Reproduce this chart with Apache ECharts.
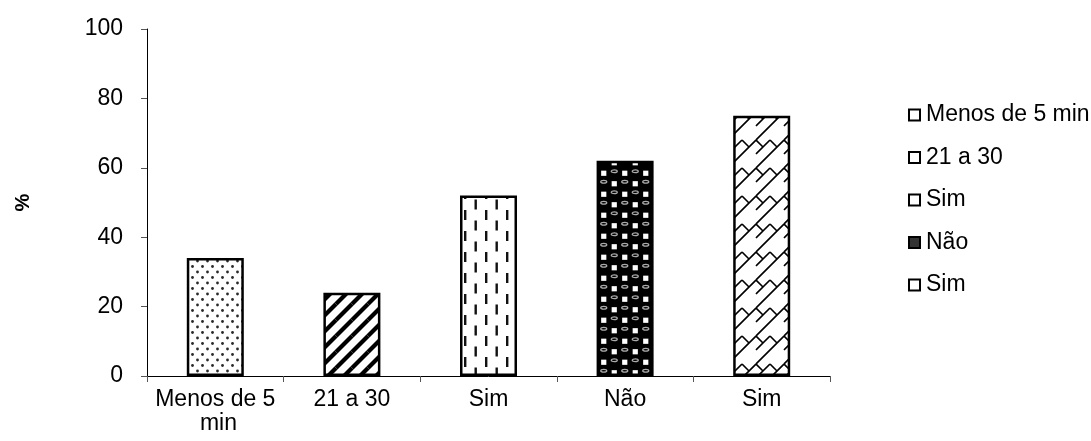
<!DOCTYPE html>
<html>
<head>
<meta charset="utf-8">
<script src="https://cdn.jsdelivr.net/npm/echarts@6/dist/echarts.min.js"></script>
<style>
  html, body { margin: 0; padding: 0; background: #fff; }
  #chart { width: 1091px; height: 441px; }
</style>
</head>
<body>
<div id="chart"></div>
<script>
// Chart data
const categories = ['Menos de 5 min', '21 a 30', 'Sim', 'Não', 'Sim'];
const values = [34, 24, 52, 62, 75];
const legendLabels = ['Menos de 5 min', '21 a 30', 'Sim', 'Não', 'Sim'];
const yTicks = { min: 0, max: 100, interval: 20 };

const FONT = '"Liberation Sans", Arial, sans-serif';

// ---- hatch fills, drawn once into small repeating tiles ----
function tile(w, h, bg, draw) {
  const c = document.createElement('canvas');
  c.width = w; c.height = h;
  const ctx = c.getContext('2d');
  ctx.fillStyle = bg;
  ctx.fillRect(0, 0, w, h);
  // draw at the neighbouring offsets too so shapes wrap seamlessly
  for (const dx of [-w, 0, w]) {
    for (const dy of [-h, 0, h]) {
      ctx.save();
      ctx.translate(dx, dy);
      draw(ctx);
      ctx.restore();
    }
  }
  return c;
}

const dotsTile = tile(10, 11, '#fff', ctx => {
  ctx.fillStyle = '#2a2a2a';
  [[2.5, 2.5], [7.5, 8]].forEach(([x, y]) => {
    ctx.beginPath(); ctx.arc(x, y, 1.4, 0, Math.PI * 2); ctx.fill();
  });
});

const stripeTile = tile(16, 16, '#fff', ctx => {
  ctx.strokeStyle = '#000';
  ctx.lineWidth = 4.2;
  ctx.beginPath(); ctx.moveTo(0, 16); ctx.lineTo(16, 0); ctx.stroke();
});

const dashTile = tile(21, 21, '#fff', ctx => {
  ctx.fillStyle = '#111';
  ctx.fillRect(2, 0, 2.4, 10);
  ctx.fillRect(12.5, 10.5, 2.4, 10);
});

const ballTile = tile(21, 21, '#000', ctx => {
  ctx.fillStyle = '#fff';
  [[15.75, 5.25], [5.25, 15.75]].forEach(([x, y]) => {
    ctx.fillRect(x - 2.6, y - 2.6, 5.2, 5.2);
  });
  [[5.25, 5.25], [15.75, 15.75]].forEach(([x, y]) => {
    ctx.fillStyle = '#000';
    ctx.beginPath(); ctx.arc(x, y, 6, 0, Math.PI * 2); ctx.fill();
    ctx.strokeStyle = '#aaa';
    ctx.lineWidth = 1.3;
    ctx.beginPath(); ctx.ellipse(x, y - 2, 3, 1.4, 0, 0, Math.PI * 2); ctx.stroke();
  });
});

// diagonal brick courses: long "/" joints with staggered short "\" joints
const brickTile = tile(28, 28, '#fff', ctx => {
  ctx.strokeStyle = '#000';
  ctx.lineWidth = 1.6;
  ctx.beginPath();
  ctx.moveTo(0, 14); ctx.lineTo(14, 0);
  ctx.moveTo(0, 28); ctx.lineTo(28, 0);
  ctx.moveTo(0, 0); ctx.lineTo(7, 7);
  ctx.moveTo(14, 0); ctx.lineTo(21, 7);
  ctx.stroke();
});

const fills = [dotsTile, stripeTile, dashTile, ballTile, brickTile]
  .map(img => ({ image: img, repeat: 'repeat' }));
const legendFill = ['#fff', '#fff', '#fff', '#333', '#fff'];

// one series per category, stacked so each bar sits centred on its slot
const series = values.map((v, i) => ({
  name: 'serie' + i,
  type: 'bar',
  stack: 'total',
  barWidth: 57,
  data: categories.map((_, j) => (j === i ? v : '-')),
  itemStyle: { color: fills[i], borderColor: '#000', borderWidth: 2.5 },
  emphasis: { disabled: true }
}));

const chart = echarts.init(document.getElementById('chart'), null, { renderer: 'canvas' });
chart.setOption({
  animation: false,
  backgroundColor: '#fff',
  grid: { left: 147, right: 261, top: 29, bottom: 65, outerBoundsMode: 'none', containLabel: false },
  xAxis: {
    type: 'category',
    data: categories,
    axisLine: { lineStyle: { color: '#000', width: 1 } },
    axisTick: { show: true, interval: 0, length: 6, lineStyle: { color: '#555' } },
    axisLabel: {
      interval: 0, margin: 12, color: '#000',
      fontFamily: FONT, fontSize: 23, lineHeight: 24,
      width: 126, overflow: 'break'
    }
  },
  yAxis: {
    type: 'value',
    min: yTicks.min, max: yTicks.max, interval: yTicks.interval,
    name: '%',
    nameLocation: 'middle',
    nameRotate: 90,
    nameGap: 114,
    nameTextStyle: { fontFamily: FONT, fontSize: 20, fontWeight: 'bold', color: '#000' },
    axisLine: { show: true, lineStyle: { color: '#000', width: 1 } },
    axisTick: { show: true, length: 6, lineStyle: { color: '#555' } },
    splitLine: { show: false },
    axisLabel: { margin: 24, color: '#000', fontFamily: FONT, fontSize: 23 }
  },
  legend: {
    orient: 'vertical',
    left: 903,
    top: 98,
    icon: 'rect',
    itemWidth: 11,
    itemHeight: 11,
    itemGap: 18.5,
    selectedMode: false,
    data: series.map((s, i) => ({
      name: s.name,
      itemStyle: { color: legendFill[i], borderColor: '#000', borderWidth: 2 }
    })),
    formatter: name => legendLabels[Number(name.replace('serie', ''))],
    textStyle: { fontFamily: FONT, fontSize: 23, color: '#000', lineHeight: 24, padding: [0, 0, 0, 1] }
  },
  series: series
});
</script>
</body>
</html>
